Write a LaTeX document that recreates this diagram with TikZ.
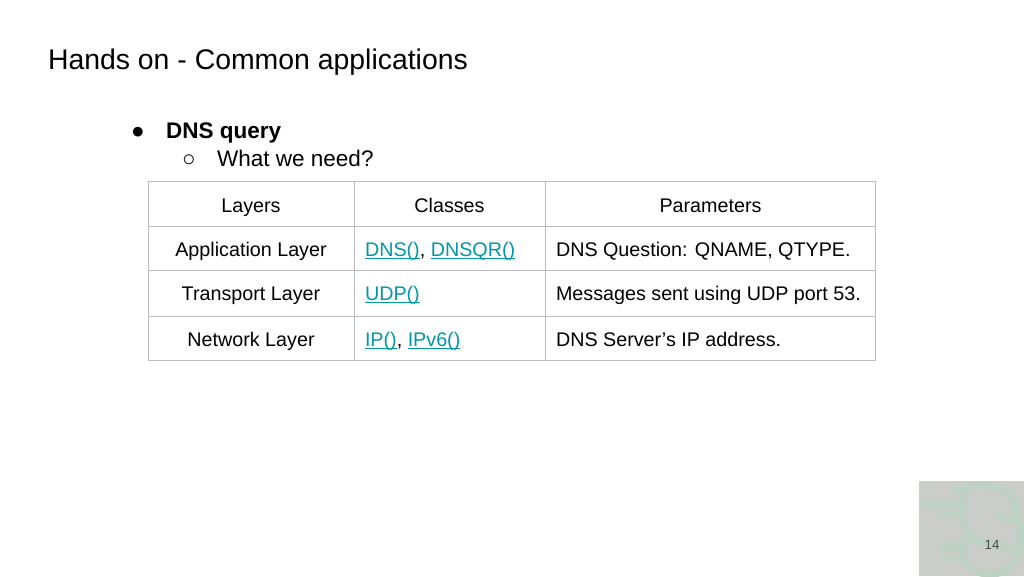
\documentclass[tikz,border=0pt]{standalone}
\usepackage{fontspec}
\setmainfont{Liberation Sans}
\definecolor{linkc}{HTML}{0097A7}
\definecolor{gridc}{HTML}{BDBDBD}
\definecolor{inkc}{HTML}{000000}
\definecolor{panelc}{HTML}{CBCDCB}
\definecolor{logoc}{HTML}{BFD1C5}
\newsavebox{\lnkbox}
\newcommand{\lnk}[1]{\sbox{\lnkbox}{#1}\textcolor{linkc}{\rlap{\rule[-1.9pt]{\wd\lnkbox}{0.6pt}}#1}}
\tikzset{
  txt/.style={inner sep=0pt,outer sep=0pt,anchor=base,text=inkc,font=\fontsize{14.8}{16}\selectfont},
  lefttxt/.style={txt,anchor=base west},
  gridline/.style={draw=gridc,line width=0.8pt},
  logostroke/.style={draw=logoc,line width=6pt,line cap=round}
}
\begin{document}
\begin{tikzpicture}[x=0.75pt,y=-0.75pt]
\useasboundingbox (0,0) rectangle (1024,576);
% logo panel
\fill[panelc] (919,481) rectangle (1024,576);
\begin{scope}
\clip (919,481) rectangle (1024,576);
\draw[logostroke] (954,491) .. controls (976,480) and (1008,482) .. (1016,507) .. controls (1019,520) and (1006,524) .. (999,514);
\draw[logostroke] (1016,507) .. controls (1020,525) and (1020,545) .. (1018,556) .. controls (1010,578) and (978,578) .. (966,564) .. controls (962,555) and (963,550) .. (965,540);
\draw[logostroke] (968,486) .. controls (958,508) and (960,530) .. (978,541) .. controls (995,546) and (1012,545) .. (1018,556);
\draw[logostroke,line width=7pt] (923,504) -- (956,504);
\draw[logostroke,line width=5pt] (940,515) -- (958,515);
\draw[logostroke,line width=7pt] (942,547) -- (960,547);
\draw[logostroke,line width=5pt] (946,558) -- (954,558);
\end{scope}
\node[txt,text=inkc!70,font=\fontsize{10}{12}\selectfont] (pageno) at (992,549) {14};
% headings
\node[lefttxt,font=\fontsize{21.3}{24}\selectfont] (title) at (48,69.5) {Hands on - Common applications};
\node[lefttxt,font=\fontsize{16.9}{20}\selectfont] (b1) at (131,138) {●};
\node[lefttxt,font=\fontsize{16.9}{20}\selectfont\bfseries] (h1) at (166,138) {DNS query};
\node[lefttxt,font=\fontsize{16.9}{20}\selectfont] (b2) at (182,166) {○};
\node[lefttxt,font=\fontsize{16.9}{20}\selectfont] (h2) at (217,166) {What we need?};
% table grid
\foreach \y in {181.5,226.5,270.5,316.5,360.5}
  \draw[gridline] (148,\y) -- (876,\y);
\foreach \x in {148.5,354.5,545.5,875.5}
  \draw[gridline] (\x,181.5) -- (\x,360.5);
% header
\node[txt] (c11) at (251,212) {Layers};
\node[txt] (c12) at (449.5,212) {Classes};
\node[txt] (c13) at (710.5,212) {Parameters};
% rows
\node[txt] (c21) at (251,256) {Application Layer};
\node[lefttxt] (c22) at (365,256) {\lnk{DNS()}, \lnk{DNSQR()}};
\node[lefttxt] (c23) at (556,256) {DNS Question: QNAME, QTYPE.};
\node[txt] (c31) at (251,300) {Transport Layer};
\node[lefttxt] (c32) at (365,300) {\lnk{UDP()}};
\node[lefttxt] (c33) at (556,300) {Messages sent using UDP port 53.};
\node[txt] (c41) at (251,346) {Network Layer};
\node[lefttxt] (c42) at (365,346) {\lnk{IP()}, \lnk{IPv6()}};
\node[lefttxt] (c43) at (556,346) {DNS Server’s IP address.};
\end{tikzpicture}
\end{document}
